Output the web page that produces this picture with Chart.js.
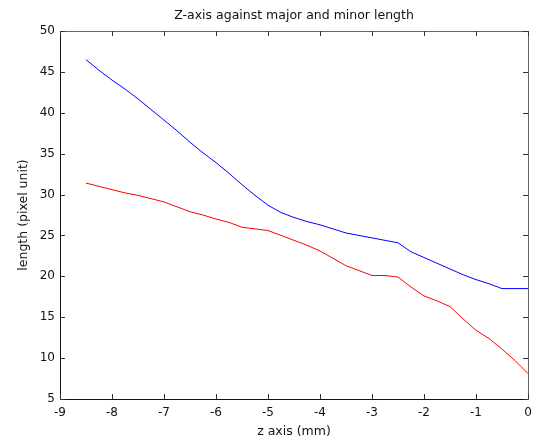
<!DOCTYPE html>
<html>
<head>
<meta charset="utf-8">
<script src="https://cdn.jsdelivr.net/npm/chart.js@4"></script>
<style>
html,body{margin:0;padding:0;background:#fff;}
#wrap{width:536px;height:440px;position:relative;}
</style>
</head>
<body>
<div id="wrap"><canvas id="c" width="536" height="440"></canvas></div>
<script>
const zAxis = [-8.5,-8.25,-8,-7.75,-7.5,-7.25,-7,-6.75,-6.5,-6.25,-6,-5.75,-5.5,-5.25,-5,-4.75,-4.5,-4.25,-4,-3.75,-3.5,-3.25,-3,-2.75,-2.5,-2.25,-2,-1.75,-1.5,-1.25,-1,-0.75,-0.5,-0.25,0];
const majorLength = [46.5,45.2,44.0,42.9,41.7,40.4,39.1,37.8,36.4,35.1,33.9,32.6,31.2,29.9,28.7,27.8,27.2,26.7,26.3,25.8,25.3,25.0,24.7,24.4,24.1,23.0,22.3,21.6,20.9,20.2,19.6,19.1,18.5,18.5,18.5];
const minorLength = [31.4,31.0,30.6,30.2,29.9,29.5,29.1,28.5,27.9,27.5,27.0,26.6,26.0,25.8,25.6,25.0,24.4,23.8,23.1,22.2,21.3,20.7,20.1,20.1,19.9,18.7,17.6,17.0,16.3,14.8,13.4,12.4,11.1,9.7,8.1];
const xTicks = [-9,-8,-7,-6,-5,-4,-3,-2,-1,0];
const yTicks = [5,10,15,20,25,30,35,40,45,50];

const FONT = "'DejaVu Sans', sans-serif";

const boxPlugin = {
  id: 'boxTicks',
  afterDraw(chart) {
    const {ctx, chartArea: a, scales} = chart;
    const xs = scales.x, ys = scales.y;
    const L = 5;
    ctx.save();
    ctx.lineWidth = 1;
    ctx.strokeStyle = '#666';
    ctx.beginPath();
    ctx.moveTo(Math.round(a.left)+0.5, Math.round(a.top)+0.5);
    ctx.lineTo(Math.round(a.right)+0.5, Math.round(a.top)+0.5);
    ctx.lineTo(Math.round(a.right)+0.5, Math.round(a.bottom)+0.5);
    ctx.stroke();
    ctx.strokeStyle = '#111';
    ctx.beginPath();
    ctx.moveTo(Math.round(a.left)+0.5, Math.round(a.top)+0.5);
    ctx.lineTo(Math.round(a.left)+0.5, Math.round(a.bottom)+0.5);
    ctx.lineTo(Math.round(a.right)+0.5, Math.round(a.bottom)+0.5);
    ctx.stroke();
    ctx.strokeStyle = '#333';
    ctx.beginPath();
    xTicks.forEach(v => {
      const px = Math.round(xs.getPixelForValue(v)) + 0.5;
      ctx.moveTo(px, a.bottom); ctx.lineTo(px, a.bottom - L);
      ctx.moveTo(px, a.top); ctx.lineTo(px, a.top + L);
    });
    yTicks.forEach(v => {
      const py = Math.round(ys.getPixelForValue(v)) + 0.5;
      ctx.moveTo(a.left, py); ctx.lineTo(a.left + L, py);
      ctx.moveTo(a.right, py); ctx.lineTo(a.right - L, py);
    });
    ctx.stroke();
    ctx.restore();
  }
};

new Chart(document.getElementById('c'), {
  type: 'line',
  data: {
    datasets: [
      { label: 'major', data: zAxis.map((z,i)=>({x:z,y:majorLength[i]})), borderColor: '#0000ff', borderWidth: 1, pointRadius: 0, tension: 0, fill: false },
      { label: 'minor', data: zAxis.map((z,i)=>({x:z,y:minorLength[i]})), borderColor: '#ff0000', borderWidth: 1, pointRadius: 0, tension: 0, fill: false }
    ]
  },
  options: {
    responsive: false,
    animation: false,
    devicePixelRatio: 1,
    layout: { padding: { left: 0, right: 8, top: 0, bottom: 0 } },
    plugins: {
      legend: { display: false },
      tooltip: { enabled: false },
      title: {
        display: true,
        text: 'Z-axis against major and minor length',
        fullSize: false,
        color: '#111',
        font: { family: FONT, size: 12.5, weight: 'normal' },
        padding: { top: 8, bottom: 8 }
      }
    },
    scales: {
      x: {
        type: 'linear', min: -9, max: 0,
        afterBuildTicks(s) { s.ticks = xTicks.map(v => ({value: v})); },
        afterFit(s) { s.height = 41; s.paddingLeft = 0; s.paddingRight = 0; },
        grid: { display: false, drawTicks: false },
        border: { display: false },
        ticks: { color: '#111', padding: 7, maxRotation: 0, autoSkip: false, font: { family: FONT, size: 12 } },
        title: { display: true, text: 'z axis (mm)', color: '#111', font: { family: FONT, size: 12.5 }, padding: { top: 0, bottom: 1 } }
      },
      y: {
        type: 'linear', min: 5, max: 50,
        afterBuildTicks(s) { s.ticks = yTicks.map(v => ({value: v})); },
        afterFit(s) { s.width = 60; },
        grid: { display: false, drawTicks: false },
        border: { display: false },
        ticks: { color: '#111', padding: 5, autoSkip: false, font: { family: FONT, size: 12 } },
        title: { display: true, text: 'length (pixel unit)', color: '#111', font: { family: FONT, size: 12.5 }, padding: { top: 16, bottom: 0 } }
      }
    }
  },
  plugins: [boxPlugin]
});
</script>
</body>
</html>
